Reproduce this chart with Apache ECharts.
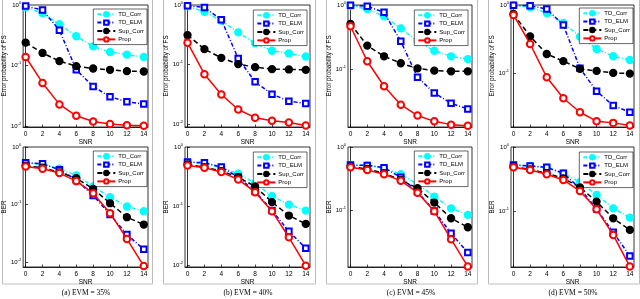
<!DOCTYPE html>
<html><head><meta charset="utf-8">
<script src="https://cdn.jsdelivr.net/npm/echarts@6/dist/echarts.min.js"></script>
<style>html,body{margin:0;padding:0;background:#fff}#c{width:640px;height:299px}</style>
</head><body><div id="c"></div>
<script>
// ---------- data ----------
const snr = [0, 2, 4, 6, 8, 10, 12, 14];
const xTicks = [0, 2, 4, 6, 8, 10, 12, 14];
const seriesNames = ['TD_Corr', 'TD_ELM', 'Sup_Corr', 'Prop'];
const captions = ['(a) EVM = 35%', '(b) EVM = 40%', '(c) EVM = 45%', '(d) EVM = 50%'];
const fsYName = 'Error probability of FS';
const berYName = 'BER';
const xName = 'SNR';

// Error probability of FS (top row)
const fs35_tdCorr = [0.915, 0.727, 0.482, 0.304, 0.207, 0.167, 0.151, 0.138];
const fs35_tdElm = [0.96, 0.826, 0.383, 0.0848, 0.0447, 0.0304, 0.0251, 0.023];
const fs35_supCorr = [0.239, 0.161, 0.118, 0.0975, 0.089, 0.0848, 0.0805, 0.0794];
const fs35_prop = [0.138, 0.0514, 0.0227, 0.0147, 0.0118, 0.0108, 0.0103, 0.0101];

const fs40_tdCorr = [0.95, 0.77, 0.545, 0.348, 0.227, 0.171, 0.154, 0.137];
const fs40_tdElm = [0.975, 0.91, 0.566, 0.127, 0.0514, 0.0319, 0.0244, 0.0223];
const fs40_supCorr = [0.313, 0.182, 0.130, 0.102, 0.0908, 0.084, 0.083, 0.0818];
const fs40_prop = [0.233, 0.0692, 0.0316, 0.0177, 0.0129, 0.0115, 0.0107, 0.0095];

const fs45_tdCorr = [0.975, 0.866, 0.666, 0.432, 0.271, 0.193, 0.158, 0.143];
const fs45_tdElm = [0.99, 0.954, 0.768, 0.271, 0.0741, 0.0422, 0.0291, 0.0237];
const fs45_supCorr = [0.505, 0.232, 0.158, 0.123, 0.102, 0.0941, 0.092, 0.092];
const fs45_prop = [0.465, 0.132, 0.0537, 0.0277, 0.0187, 0.0152, 0.0135, 0.013];

const fs50_tdCorr = [0.99, 0.925, 0.763, 0.544, 0.342, 0.225, 0.176, 0.155];
const fs50_tdElm = [0.99, 0.977, 0.873, 0.508, 0.117, 0.0538, 0.0331, 0.0264];
const fs50_supCorr = [0.738, 0.346, 0.19, 0.149, 0.115, 0.107, 0.1, 0.0978];
const fs50_prop = [0.713, 0.267, 0.0864, 0.0424, 0.0264, 0.0195, 0.0184, 0.0168];

// BER (bottom row)
const ber35_tdCorr = [0.527, 0.5, 0.42, 0.322, 0.207, 0.135, 0.0929, 0.077];
const ber35_tdElm = [0.534, 0.513, 0.403, 0.27, 0.144, 0.0675, 0.0303, 0.0168];
const ber35_supCorr = [0.473, 0.437, 0.363, 0.289, 0.188, 0.106, 0.0606, 0.0452];
const ber35_prop = [0.461, 0.42, 0.353, 0.256, 0.158, 0.0711, 0.0255, 0.0086];

const ber40_tdCorr = [0.557, 0.523, 0.448, 0.354, 0.246, 0.149, 0.107, 0.085];
const ber40_tdElm = [0.557, 0.544, 0.459, 0.311, 0.178, 0.085, 0.038, 0.0196];
const ber40_supCorr = [0.509, 0.459, 0.393, 0.311, 0.216, 0.118, 0.07, 0.0506];
const ber40_prop = [0.49, 0.448, 0.378, 0.284, 0.173, 0.083, 0.0301, 0.01];

const ber45_tdCorr = [0.518, 0.51, 0.459, 0.369, 0.256, 0.163, 0.106, 0.0833];
const ber45_tdElm = [0.518, 0.51, 0.47, 0.33, 0.195, 0.0964, 0.0427, 0.021];
const ber45_supCorr = [0.487, 0.447, 0.382, 0.299, 0.221, 0.131, 0.0738, 0.0531];
const ber45_prop = [0.476, 0.431, 0.369, 0.292, 0.188, 0.0955, 0.0343, 0.0126];

const ber50_tdCorr = [0.523, 0.505, 0.475, 0.388, 0.281, 0.178, 0.11, 0.0787];
const ber50_tdElm = [0.523, 0.505, 0.481, 0.388, 0.226, 0.107, 0.0465, 0.0198];
const ber50_supCorr = [0.493, 0.448, 0.388, 0.324, 0.234, 0.14, 0.0768, 0.0505];
const ber50_prop = [0.481, 0.437, 0.374, 0.305, 0.205, 0.106, 0.0422, 0.0135];

const fsYMin = [0.0096, 0.009, 0.0124, 0.016];
const berYMin = [0.0083, 0.0095, 0.0124, 0.0133];
const yMax = 1;
const yTickValues = [0.01, 0.1, 1];

// ---------- layout / styles ----------
const colLeft = [23, 185, 348, 511];
const colWidth = [125, 125, 124, 123];
const rowTop = [5, 147];
const rowHeight = [122, 120];
const legendRight = [493, 333, 172, 7];
const legendTop = [[9, 10, 10, 8], [151, 152, 151, 152]];
const frames = [[2, 152], [163, 315], [326, 477], [488, 639]];
const captionX = [86, 248, 411, 573];

const seriesStyles = [
  { color: '#00ffff', symbol: 'circle', symbolSize: 7, type: [4, 2, 1, 2] },
  { color: '#0000ff', symbol: 'emptyRect', symbolSize: 5.5, type: [4, 2, 1, 2] },
  { color: '#000000', symbol: 'circle', symbolSize: 7, type: [5, 3] },
  { color: '#ff0000', symbol: 'emptyCircle', symbolSize: 6.5, type: 'solid' }
];

const panelData = [
  [fs35_tdCorr, fs35_tdElm, fs35_supCorr, fs35_prop],
  [fs40_tdCorr, fs40_tdElm, fs40_supCorr, fs40_prop],
  [fs45_tdCorr, fs45_tdElm, fs45_supCorr, fs45_prop],
  [fs50_tdCorr, fs50_tdElm, fs50_supCorr, fs50_prop],
  [ber35_tdCorr, ber35_tdElm, ber35_supCorr, ber35_prop],
  [ber40_tdCorr, ber40_tdElm, ber40_supCorr, ber40_prop],
  [ber45_tdCorr, ber45_tdElm, ber45_supCorr, ber45_prop],
  [ber50_tdCorr, ber50_tdElm, ber50_supCorr, ber50_prop]
];

const FONT = 'Liberation Sans';
const grid = [], xAxis = [], yAxis = [], series = [], legend = [], graphic = [];

for (let r = 0; r < 2; r++) {
  for (let c = 0; c < 4; c++) {
    const i = r * 4 + c;
    const yMin = r === 0 ? fsYMin[c] : berYMin[c];
    grid.push({ left: colLeft[c], top: rowTop[r], width: colWidth[c], height: rowHeight[r],
      show: true, borderColor: '#000', borderWidth: 0.8, backgroundColor: '#fff' });
    xAxis.push({
      type: 'value', gridIndex: i, min: -0.3, max: 14.5,
      name: xName, nameLocation: 'middle', nameGap: 11,
      nameTextStyle: { fontFamily: FONT, fontSize: 6.5, color: '#000' },
      axisLine: { lineStyle: { color: '#000', width: 0.8 } },
      axisTick: { inside: true, length: 2.5, customValues: xTicks, lineStyle: { color: '#000', width: 0.7 } },
      axisLabel: { customValues: xTicks, fontFamily: FONT, fontSize: 6.5, color: '#000', margin: 4 },
      splitLine: { show: false }
    });
    const yT = yTickValues.filter(v => v >= yMin * 0.999 && v <= yMax);
    yAxis.push({
      type: 'log', logBase: 10, gridIndex: i, min: yMin, max: yMax,
      name: r === 0 ? fsYName : berYName, nameLocation: 'middle', nameGap: 12,
      nameTextStyle: { fontFamily: FONT, fontSize: 6.3, color: '#000' },
      axisLine: { lineStyle: { color: '#000', width: 0.8 } },
      axisTick: { inside: true, length: 2.5, customValues: yT, lineStyle: { color: '#000', width: 0.7 } },
      axisLabel: {
        customValues: yT, margin: 2, color: '#000',
        formatter: v => '{b|10}{s|' + Math.round(Math.log10(v)) + '}',
        rich: {
          b: { fontFamily: FONT, fontSize: 6, color: '#000' },
          s: { fontFamily: FONT, fontSize: 4, color: '#000', padding: [0, 0, 5, 0] }
        }
      },
      splitLine: { show: false }
    });
    for (let k = 0; k < 4; k++) {
      const st = seriesStyles[k];
      series.push({
        type: 'line', name: seriesNames[k], xAxisIndex: i, yAxisIndex: i,
        data: snr.map((x, j) => [x, panelData[i][k][j]]),
        symbol: st.symbol, symbolSize: st.symbolSize, showAllSymbol: true,
        lineStyle: { color: st.color, width: 1.5, type: st.type },
        itemStyle: { color: st.color, borderColor: st.color, borderWidth: 1.3 },
        animation: false, z: 2 + k
      });
    }
    legend.push({
      data: seriesNames, orient: 'vertical', right: legendRight[c], top: legendTop[r][c],
      itemWidth: 18, itemHeight: 5.5, itemGap: 2, padding: [2, 3, 2, 3],
      backgroundColor: '#fff', borderColor: '#000', borderWidth: 0.6,
      textStyle: { fontFamily: FONT, fontSize: 6, color: '#000', padding: [0, 0, 0, -2] },
      selectedMode: false
    });
  }
}

for (let c = 0; c < 4; c++) {
  graphic.push({ type: 'rect', shape: { x: frames[c][0] + 0.5, y: -2, width: frames[c][1] - frames[c][0], height: 286 },
    style: { fill: 'none', stroke: '#bdbdbd', lineWidth: 1 }, z: -10 });
  graphic.push({ type: 'text', x: captionX[c], y: 293,
    style: { text: captions[c], font: '7.5px "Liberation Serif"', fill: '#000', textAlign: 'center', textVerticalAlign: 'middle' } });
}

const chart = echarts.init(document.getElementById('c'), null, { renderer: 'canvas' });
chart.setOption({ animation: false, backgroundColor: '#fff', grid, xAxis, yAxis, series, legend, graphic });
</script></body></html>
